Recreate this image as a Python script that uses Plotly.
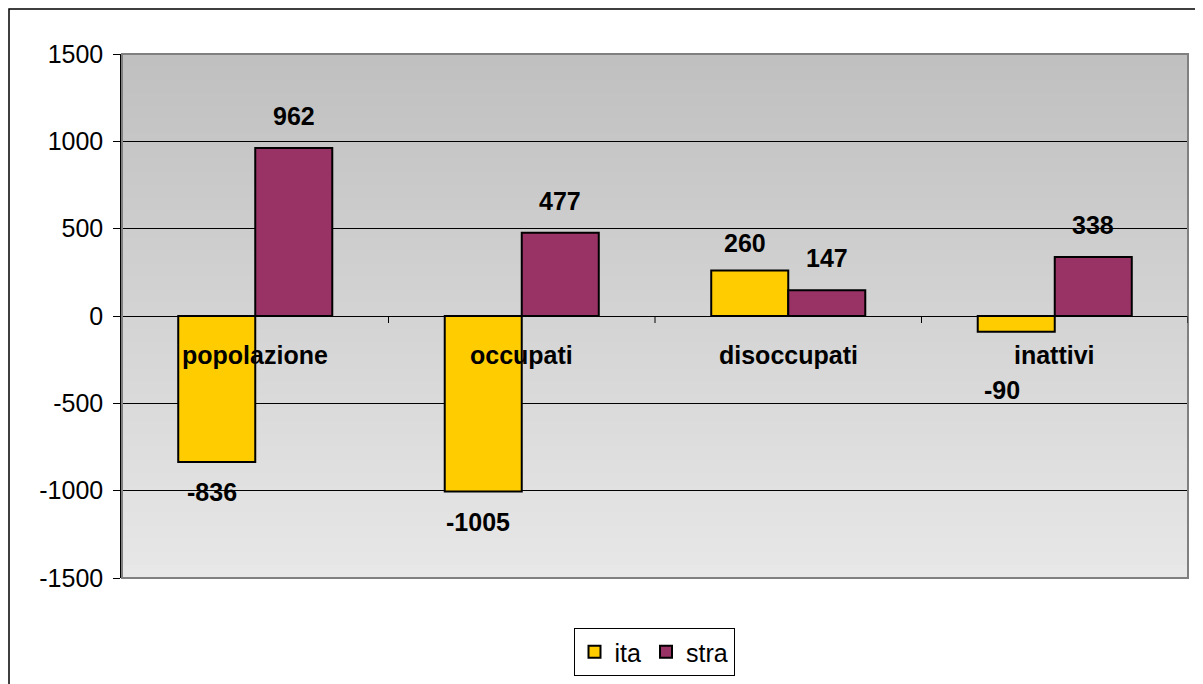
import plotly.graph_objects as go

categories = ["popolazione", "occupati", "disoccupati", "inattivi"]
ita = [-836, -1005, 260, -90]
stra = [962, 477, 147, 338]
y_ticks = [-1500, -1000, -500, 0, 500, 1000, 1500]

FONT = "Liberation Sans, Arial, sans-serif"

fig = go.Figure()
fig.add_trace(go.Bar(x=categories, y=ita, name="ita",
                     marker=dict(color="#FFCC00", line=dict(color="black", width=2))))
fig.add_trace(go.Bar(x=categories, y=stra, name="stra",
                     marker=dict(color="#993366", line=dict(color="black", width=2))))

# gradient plot background (dark grey at top -> light grey at bottom)
n = 40
shapes = []
for k in range(n):
    g = int(192 + (232 - 192) * k / (n - 1))
    shapes.append(dict(type="rect", xref="x domain", yref="y domain", layer="below",
                       x0=0, x1=1, y0=max(0, 1 - (k + 1) / n - 0.004), y1=1 - k / n,
                       line=dict(width=0), fillcolor=f"rgb({g},{g},{g})"))

# plot area border (grey)
shapes.append(dict(type="rect", xref="x domain", yref="y domain", layer="above",
                   x0=0, x1=1, y0=0, y1=1, line=dict(color="#808080", width=2)))
# tick marks on the zero line between categories
for i in range(1, len(categories) + 1):
    shapes.append(dict(type="line", xref="x", yref="y", ysizemode="pixel", yanchor=0,
                       x0=i - 0.5, x1=i - 0.5, y0=0, y1=-7,
                       line=dict(color="black", width=1)))
# outer chart border
W, H, L, R, T, B = 1195, 676, 114, 15, 46, 106
pw, ph = W - L - R, H - T - B
shapes.append(dict(type="rect", xref="paper", yref="paper",
                   x0=(1 - L) / pw, x1=1.2, y0=-0.3, y1=(ph + T - 1) / ph,
                   line=dict(color="black", width=1.5), fillcolor="rgba(0,0,0,0)"))

annotations = []
# category labels just below the zero line
for c in categories:
    annotations.append(dict(x=c, y=0, xref="x", yref="y", text=f"<b>{c}</b>",
                            showarrow=False, yshift=-39,
                            font=dict(family=FONT, size=25, color="black")))

# value labels
off = 0.289 / 2
for i, v in enumerate(ita):
    shift = 28 if v >= 0 else -30
    xs = -5
    if categories[i] == "inattivi":
        shift = -58
        xs = -14
    annotations.append(dict(x=i - off, y=v, xref="x", yref="y", text=f"<b>{v}</b>",
                            showarrow=False, yshift=shift, xshift=xs,
                            font=dict(family=FONT, size=25, color="black")))
for i, v in enumerate(stra):
    annotations.append(dict(x=i + off, y=v, xref="x", yref="y", text=f"<b>{v}</b>",
                            showarrow=False, yshift=32 if v >= 0 else -28,
                            font=dict(family=FONT, size=25, color="black")))

fig.update_layout(
    width=W, height=H,
    margin=dict(l=L, r=R, t=T, b=B, autoexpand=False),
    paper_bgcolor="white",
    plot_bgcolor="rgba(0,0,0,0)",
    barmode="group", bargap=0.422, bargroupgap=0,
    font=dict(family=FONT, size=25, color="black"),
    shapes=shapes,
    annotations=annotations,
    legend=dict(orientation="h", xref="container", yref="container",
                x=646 / W, xanchor="center", y=1 - 620 / H, yanchor="top",
                bordercolor="black", borderwidth=1, bgcolor="white",
                font=dict(family=FONT, size=25, color="black"),
                itemwidth=30, traceorder="normal"),
)
fig.update_xaxes(showticklabels=False, showgrid=False, ticks="", zeroline=False,
                 range=[-0.5, 3.5])
fig.update_yaxes(range=[-1500, 1500], tickvals=y_ticks, ticktext=[str(t) for t in y_ticks],
                 showgrid=True, gridcolor="black",
                 gridwidth=1, zeroline=True, zerolinecolor="black", zerolinewidth=1,
                 showline=True, linecolor="black", linewidth=1.5,
                 ticks="outside", ticklen=7, tickcolor="black", ticklabelstandoff=5,
                 tickfont=dict(family=FONT, size=25, color="black"))

fig.write_html("out.html")
